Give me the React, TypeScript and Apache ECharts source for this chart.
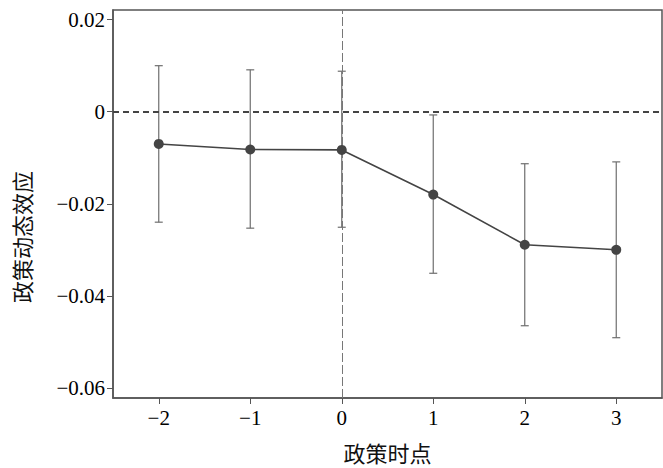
import React, { useEffect, useRef } from "react";
import * as echarts from "echarts";

const periods = ["-2", "-1", "0", "1", "2", "3"];
const estimates = [-0.007, -0.0082, -0.0083, -0.018, -0.0289, -0.03];
const lowerCI = [-0.024, -0.0253, -0.0251, -0.0351, -0.0465, -0.0491];
const upperCI = [0.01, 0.0091, 0.0088, -0.0007, -0.0113, -0.0109];
const yTicks = [-0.06, -0.04, -0.02, 0, 0.02];
const xAxisTitle = "政策时点";
const yAxisTitle = "政策动态效应";

const serif = "Liberation Serif";
const cjk = "Noto Sans CJK SC";

function fmtY(v: number) {
  if (Math.abs(v) < 1e-9) return "0";
  return (v < 0 ? "\u2212" : "") + Math.abs(v).toFixed(2);
}
function fmtX(v: string) {
  const n = Number(v);
  return n < 0 ? "\u2212" + Math.abs(n) : String(n);
}

const tickFont = { fontFamily: serif, fontSize: 21, color: "#000" };

export default function App() {
  const ref = useRef<HTMLDivElement>(null);
  useEffect(() => {
    if (!ref.current) return;
    const chart = echarts.init(ref.current, undefined, { renderer: "svg" });
    const errData = periods.map((p, i) => [i, lowerCI[i], upperCI[i]]);
    chart.setOption({
      animation: false,
      backgroundColor: "#fff",
      grid: {
        left: 113,
        right: 1,
        top: 10,
        bottom: 69,
        show: true,
        borderColor: "#555",
        borderWidth: 1.5,
        backgroundColor: "transparent",
      },
      xAxis: {
        type: "category",
        data: periods,
        boundaryGap: true,
        name: xAxisTitle,
        nameLocation: "middle",
        nameGap: 43,
        nameTextStyle: { fontFamily: cjk, fontSize: 22, color: "#111" },
        splitLine: { show: false },
        axisLine: { show: true, onZero: false, lineStyle: { color: "#555", width: 1.5 } },
        axisTick: { show: true, length: 6, alignWithLabel: true, lineStyle: { color: "#555", width: 1 } },
        axisLabel: {
          formatter: (v: string) => "{t|" + fmtX(v) + "}",
          rich: { t: { ...tickFont } },
          ...tickFont,
          margin: 10,
        },
      },
      yAxis: {
        type: "value",
        min: -0.0622,
        max: 0.0221,
        splitLine: { show: false },
        axisLine: { show: true, onZero: false, lineStyle: { color: "#555", width: 1.5 } },
        axisTick: { show: true, length: 6, customValues: yTicks, lineStyle: { color: "#555", width: 1 } },
        axisLabel: {
          customValues: yTicks,
          formatter: (v: number) => "{t|" + fmtY(v) + "}",
          rich: { t: { ...tickFont } },
          ...tickFont,
          margin: 8,
        },
      },
      graphic: [
        {
          type: "text",
          x: 21,
          y: 237,
          rotation: Math.PI / 2,
          style: {
            text: yAxisTitle,
            fontFamily: cjk,
            fontSize: 22,
            fill: "#111",
            align: "center",
            verticalAlign: "middle",
          },
        },
      ],
      series: [
        {
          type: "line",
          data: [],
          silent: true,
          markLine: {
            silent: true,
            symbol: "none",
            label: { show: false },
            data: [
              { yAxis: 0, lineStyle: { color: "#444", width: 2, type: [6, 4] } },
              { xAxis: "0", lineStyle: { color: "#777", width: 1, type: [9, 3] } },
            ],
          },
        },
        {
          type: "custom",
          data: errData,
          z: 3,
          renderItem: (params: any, api: any) => {
            const x = api.value(0);
            const lo = api.coord([x, api.value(1)]);
            const hi = api.coord([x, api.value(2)]);
            const w = 4;
            const style = { stroke: "#6e6e6e", lineWidth: 1.2 };
            return {
              type: "group",
              children: [
                { type: "line", shape: { x1: hi[0], y1: hi[1], x2: lo[0], y2: lo[1] }, style },
                { type: "line", shape: { x1: hi[0] - w, y1: hi[1], x2: hi[0] + w, y2: hi[1] }, style },
                { type: "line", shape: { x1: lo[0] - w, y1: lo[1], x2: lo[0] + w, y2: lo[1] }, style },
              ],
            };
          },
        },
        {
          type: "line",
          z: 5,
          data: estimates,
          symbol: "circle",
          symbolSize: 10,
          lineStyle: { color: "#444", width: 1.6 },
          itemStyle: { color: "#444" },
        },
      ],
    });
    return () => chart.dispose();
  }, []);
  return (
    <div
      ref={ref}
      style={{ position: "fixed", left: 0, top: 0, width: 663, height: 468 }}
    />
  );
}
